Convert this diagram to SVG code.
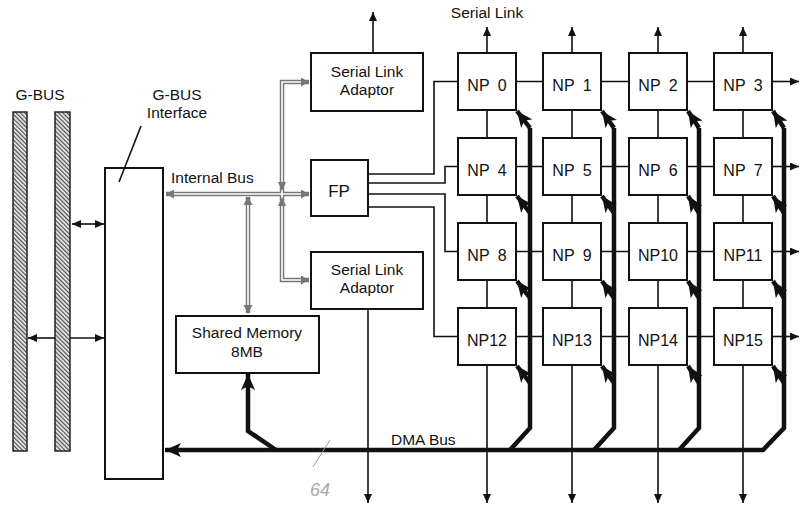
<svg xmlns="http://www.w3.org/2000/svg" width="801" height="508" viewBox="0 0 801 508">
<style>
text{font-family:"Liberation Sans",Arial,sans-serif;font-size:15.5px;fill:#111}
.c{text-anchor:middle}
.np{font-size:16px;text-anchor:middle;word-spacing:4px}
.box{fill:#fff;stroke:#111;stroke-width:2}
.ln{fill:none;stroke:#111;stroke-width:1.6}
.dma{fill:none;stroke:#111;stroke-width:4.5;stroke-linejoin:miter}
.busO{fill:none;stroke:#777;stroke-width:4.5}
.busI{fill:none;stroke:#fff;stroke-width:1.6}
</style>
<defs>
<pattern id="hatch" width="3" height="3" patternUnits="userSpaceOnUse" patternTransform="rotate(-45)">
<rect width="3" height="3" fill="#e8e8e8"/>
<line x1="0.6" y1="0" x2="0.6" y2="3" stroke="#444" stroke-width="1.1"/>
</pattern>
<marker id="a" markerWidth="9" markerHeight="8" refX="9" refY="4" orient="auto-start-reverse" markerUnits="userSpaceOnUse"><path d="M0,0 L9,4 L0,8 z" fill="#111"/></marker>
<marker id="t" markerWidth="16" markerHeight="14" refX="16" refY="7" orient="auto-start-reverse" markerUnits="userSpaceOnUse"><path d="M0,0 L16,7 L0,14 L4,7 z" fill="#111"/></marker>
<marker id="g" markerWidth="8" markerHeight="9" refX="8" refY="4.5" orient="auto-start-reverse" markerUnits="userSpaceOnUse"><path d="M0,0 L8,4.5 L0,9 z" fill="#777"/></marker>
</defs>
<rect width="801" height="508" fill="#fff"/>

<g id="gbus">
<rect x="13" y="112" width="14" height="339" fill="url(#hatch)" stroke="#222" stroke-width="1.5"/>
<rect x="55" y="112" width="15" height="339" fill="url(#hatch)" stroke="#222" stroke-width="1.5"/>
<text class="c" x="40" y="100">G-BUS</text>
</g>

<g id="gbus-interface">
<rect class="box" x="105" y="168" width="58" height="311"/>
<text class="c" x="177" y="100">G-BUS</text>
<text class="c" x="177" y="118">Interface</text>
<path class="ln" d="M141,126 L119,182"/>
</g>

<g id="serial-link-adaptor-top">
<rect class="box" x="311" y="53" width="112" height="58"/>
<text class="c" x="367" y="77">Serial Link</text>
<text class="c" x="367" y="95">Adaptor</text>
</g>

<g id="fp">
<rect class="box" x="311" y="160" width="57" height="56"/>
<text class="c" x="339" y="197" style="font-size:17px">FP</text>
</g>

<g id="serial-link-adaptor-bottom">
<rect class="box" x="311" y="252" width="112" height="57"/>
<text class="c" x="367" y="275">Serial Link</text>
<text class="c" x="367" y="293">Adaptor</text>
</g>

<g id="shared-memory">
<rect class="box" x="176" y="316" width="143" height="57"/>
<text class="c" x="247" y="338">Shared Memory</text>
<text class="c" x="247" y="357">8MB</text>
</g>

<g id="np0"><rect class="box" x="458" y="53" width="58" height="57"/><text class="np" x="487" y="91">NP 0</text></g>
<g id="np1"><rect class="box" x="543" y="53" width="58" height="57"/><text class="np" x="572" y="91">NP 1</text></g>
<g id="np2"><rect class="box" x="629" y="53" width="58" height="57"/><text class="np" x="658" y="91">NP 2</text></g>
<g id="np3"><rect class="box" x="714" y="53" width="58" height="57"/><text class="np" x="743" y="91">NP 3</text></g>
<g id="np4"><rect class="box" x="458" y="138" width="58" height="57"/><text class="np" x="487" y="176">NP 4</text></g>
<g id="np5"><rect class="box" x="543" y="138" width="58" height="57"/><text class="np" x="572" y="176">NP 5</text></g>
<g id="np6"><rect class="box" x="629" y="138" width="58" height="57"/><text class="np" x="658" y="176">NP 6</text></g>
<g id="np7"><rect class="box" x="714" y="138" width="58" height="57"/><text class="np" x="743" y="176">NP 7</text></g>
<g id="np8"><rect class="box" x="458" y="223" width="58" height="57"/><text class="np" x="487" y="261">NP 8</text></g>
<g id="np9"><rect class="box" x="543" y="223" width="58" height="57"/><text class="np" x="572" y="261">NP 9</text></g>
<g id="np10"><rect class="box" x="629" y="223" width="58" height="57"/><text class="np" x="658" y="261">NP10</text></g>
<g id="np11"><rect class="box" x="714" y="223" width="58" height="57"/><text class="np" x="743" y="261">NP11</text></g>
<g id="np12"><rect class="box" x="458" y="308" width="58" height="57"/><text class="np" x="487" y="346">NP12</text></g>
<g id="np13"><rect class="box" x="543" y="308" width="58" height="57"/><text class="np" x="572" y="346">NP13</text></g>
<g id="np14"><rect class="box" x="629" y="308" width="58" height="57"/><text class="np" x="658" y="346">NP14</text></g>
<g id="np15"><rect class="box" x="714" y="308" width="58" height="57"/><text class="np" x="743" y="346">NP15</text></g>

<g id="connectors">
<!-- G-BUS links -->
<path class="ln" d="M72,224 H104" marker-start="url(#a)" marker-end="url(#a)"/>
<path class="ln" d="M55,338 H28" marker-end="url(#a)"/>
<path class="ln" d="M70,338 H104" marker-end="url(#a)"/>

<!-- internal bus -->
<path class="busO" d="M166,194 H309" marker-start="url(#g)" marker-end="url(#g)"/>
<path class="busO" d="M248,197 V313" marker-start="url(#g)" marker-end="url(#g)"/>
<path class="busO" d="M309,82 H282 V280 H309" marker-start="url(#g)" marker-end="url(#g)"/>
<path class="busI" d="M174,194 H301"/>
<path class="busI" d="M248,205 V305"/>
<path class="busI" d="M301,82 H282 V280 H301"/>
<path d="M278,182 L286,182 L282,191 z M278,206 L286,206 L282,197 z" fill="#777"/>
<text x="171" y="183">Internal Bus</text>

<!-- adaptor serial links -->
<path class="ln" d="M373,53 V12" marker-end="url(#a)"/>
<path class="ln" d="M368,309 V503" marker-end="url(#a)"/>

<!-- FP to NP column 0 -->
<path class="ln" d="M368,174 H434 V81.5 H458"/>
<path class="ln" d="M368,183 H445 V166.5 H458"/>
<path class="ln" d="M368,194 H445 V251.5 H458"/>
<path class="ln" d="M368,207 H434 V336.5 H458"/>

<!-- row links -->
<path class="ln" d="M516,81.5 H543 M601,81.5 H629 M687,81.5 H714"/>
<path class="ln" d="M516,166.5 H543 M601,166.5 H629 M687,166.5 H714"/>
<path class="ln" d="M516,251.5 H543 M601,251.5 H629 M687,251.5 H714"/>
<path class="ln" d="M516,336.5 H543 M601,336.5 H629 M687,336.5 H714"/>
<path class="ln" d="M772,81.5 H799" marker-end="url(#a)"/>
<path class="ln" d="M772,166.5 H799" marker-end="url(#a)"/>
<path class="ln" d="M772,251.5 H799" marker-end="url(#a)"/>
<path class="ln" d="M772,336.5 H799" marker-end="url(#a)"/>

<!-- column links -->
<path class="ln" d="M487,110 V138 M487,195 V223 M487,280 V308"/>
<path class="ln" d="M572,110 V138 M572,195 V223 M572,280 V308"/>
<path class="ln" d="M658,110 V138 M658,195 V223 M658,280 V308"/>
<path class="ln" d="M743,110 V138 M743,195 V223 M743,280 V308"/>
<path class="ln" d="M487,53 V27" marker-end="url(#a)"/>
<path class="ln" d="M572,53 V27" marker-end="url(#a)"/>
<path class="ln" d="M658,53 V27" marker-end="url(#a)"/>
<path class="ln" d="M743,53 V27" marker-end="url(#a)"/>
<path class="ln" d="M487,365 V503" marker-end="url(#a)"/>
<path class="ln" d="M572,365 V503" marker-end="url(#a)"/>
<path class="ln" d="M658,365 V503" marker-end="url(#a)"/>
<path class="ln" d="M743,365 V503" marker-end="url(#a)"/>
<text class="c" x="487" y="18">Serial Link</text>

<!-- DMA bus -->
<path class="dma" d="M784,128 V428 L763,450 H165" marker-end="url(#t)"/>
<path class="dma" d="M530,128 V428 L510,450"/>
<path class="dma" d="M614,128 V428 L594,450"/>
<path class="dma" d="M699,128 V428 L679,450"/>
<path class="dma" d="M276,450 L248,431 V374" marker-end="url(#t)"/>
<g class="dma">
<path d="M530,128 L517,111" marker-end="url(#t)"/>
<path d="M530,213 L517,196" marker-end="url(#t)"/>
<path d="M530,298 L517,281" marker-end="url(#t)"/>
<path d="M530,383 L517,366" marker-end="url(#t)"/>
<path d="M614,128 L602,111" marker-end="url(#t)"/>
<path d="M614,213 L602,196" marker-end="url(#t)"/>
<path d="M614,298 L602,281" marker-end="url(#t)"/>
<path d="M614,383 L602,366" marker-end="url(#t)"/>
<path d="M699,128 L688,111" marker-end="url(#t)"/>
<path d="M699,213 L688,196" marker-end="url(#t)"/>
<path d="M699,298 L688,281" marker-end="url(#t)"/>
<path d="M699,383 L688,366" marker-end="url(#t)"/>
<path d="M784,128 L773,111" marker-end="url(#t)"/>
<path d="M784,213 L773,196" marker-end="url(#t)"/>
<path d="M784,298 L773,281" marker-end="url(#t)"/>
<path d="M784,383 L773,366" marker-end="url(#t)"/>
</g>
<text x="391" y="445">DMA Bus</text>

<!-- handwritten annotation -->
<path d="M313,467 L330,440" stroke="#999" stroke-width="1" fill="none"/>
<text x="310" y="496" style="font-size:18px;font-style:italic;fill:#aaa">64</text>
</g>
</svg>
